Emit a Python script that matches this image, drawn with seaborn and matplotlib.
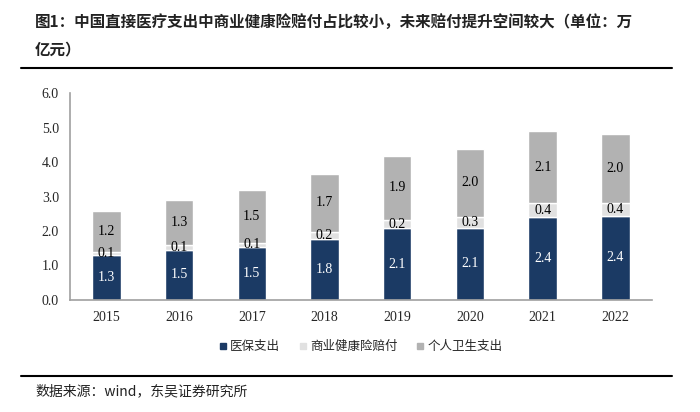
import numpy as np
import pandas as pd
import matplotlib
matplotlib.use("Agg")
import matplotlib.pyplot as plt
import seaborn as sns
from matplotlib.lines import Line2D

# 数据（万亿元）
years = ["2015", "2016", "2017", "2018", "2019", "2020", "2021", "2022"]
yibao = [1.29, 1.46, 1.53, 1.78, 2.08, 2.10, 2.40, 2.44]      # 医保支出
shangbao = [0.11, 0.12, 0.13, 0.19, 0.24, 0.30, 0.41, 0.36]   # 商业健康险赔付
geren = [1.17, 1.31, 1.52, 1.69, 1.86, 1.99, 2.09, 2.00]      # 个人卫生支出
names = ["医保支出", "商业健康险赔付", "个人卫生支出"]
colors = ["#1b3a64", "#e1e1e1", "#b2b2b2"]
label_colors = ["white", "black", "black"]

sns.set_style("white")
plt.rcParams['font.family'] = ['Noto Sans CJK SC', 'DejaVu Sans']
serif = "Liberation Serif"

fig = plt.figure(figsize=(7, 4.12), dpi=100)
ax = fig.add_axes([0.1, 0.272, 0.831, 0.502])

df = pd.DataFrame({"year": years, "a": yibao, "b": shangbao, "c": geren})
bottom = np.zeros(len(years))
for col, name, c in zip(["a", "b", "c"], names, colors):
    sns.barplot(data=df, x="year", y=col, color=c, bottom=bottom, width=0.39,
                ax=ax, saturation=1, label=name)
    bottom = bottom + df[col].values

for cont, lc in zip(ax.containers, label_colors):
    ax.bar_label(cont, labels=[f"{v:.1f}" for v in cont.datavalues],
                 label_type="center", color=lc, fontsize=10, family=serif)

ax.set_ylim(0, 6)
ax.set_yticks(np.arange(0, 6.1, 1.0))
ax.set_yticklabels([f"{v:.1f}" for v in np.arange(0, 6.1, 1.0)], family=serif, fontsize=10)
ax.set_xticks(range(len(years)))
ax.set_xticklabels(years, family=serif, fontsize=10)
ax.set_xlim(-0.5, 7.5)
ax.set_xlabel("")
ax.set_ylabel("")
sns.despine(ax=ax)
for s in ["left", "bottom"]:
    ax.spines[s].set_color("#a0a0a0")
    ax.spines[s].set_linewidth(1.2)
ax.tick_params(length=0, pad=8)

handles = [Line2D([], [], marker="s", linestyle="", color=c, markersize=5) for c in colors]
ax.legend(handles, names, loc="center", bbox_to_anchor=(0.5, -0.225), ncol=3,
          frameon=False, fontsize=9, handlelength=0.6, handletextpad=0.3,
          columnspacing=1.5)

fig.text(0.05, 0.947, "图1：中国直接医疗支出中商业健康险赔付占比较小，未来赔付提升空间较大（单位：万",
         fontsize=11.2, fontweight="bold", color="#222222", va="center")
fig.text(0.05, 0.879, "亿元）", fontsize=11.2, fontweight="bold", color="#222222", va="center")
fig.add_artist(Line2D([0.03, 0.96], [0.835, 0.835], color="black", lw=1.5))
fig.add_artist(Line2D([0.03, 0.96], [0.087, 0.087], color="black", lw=1.5))
fig.text(0.05, 0.05, "数据来源：wind，东吴证券研究所", fontsize=10, color="#222222", va="center")

fig.savefig("out.png", dpi=100)
